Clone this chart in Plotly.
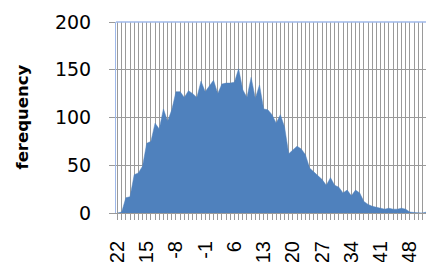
import plotly.graph_objects as go

categories = list(range(-22, 54))
values = [0, 1, 16, 17, 40, 42, 49, 73, 75, 94, 88, 109, 96, 108, 127, 127,
          121, 128, 125, 121, 138, 127, 133, 139, 125, 135, 136, 136, 137, 151,
          129, 121, 142, 120, 134, 109, 108, 103, 94, 103, 90, 62, 66, 70, 67,
          61, 47, 43, 40, 35, 29, 37, 29, 27, 21, 24, 18, 24, 21, 12, 9, 7, 6,
          5, 4, 5, 4, 4, 5, 4, 1, 0.5, 0, 0, 1, 3]
label_step = 7
tick_labels = [str(c) if (c - categories[0]) % label_step == 0 else "" for c in categories]
y_ticks = [0, 50, 100, 150, 200]

grid = "#9a9a9a"
blue_line = "#9fb9ea"

fig = go.Figure()
fig.add_trace(go.Scatter(
    x=categories, y=values, mode="lines", fill="tozeroy",
    fillcolor="#4f81bd", line=dict(color="#4f81bd", width=0.5),
    hoverinfo="skip", showlegend=False,
))

fig.update_layout(
    width=426, height=254,
    margin=dict(l=108, r=0, t=14, b=49, autoexpand=False),
    paper_bgcolor="white", plot_bgcolor="white",
    showlegend=False,
    xaxis=dict(
        range=[-22.36, 53.79],
        tickmode="array", tickvals=categories, ticktext=tick_labels,
        tickangle=-90,
        showgrid=True, gridcolor=grid, gridwidth=1,
        ticks="outside", ticklen=6, tickcolor=grid, tickwidth=1,
        showline=True, linecolor=grid, linewidth=1,
        zeroline=False, automargin=False,
        tickfont=dict(family="Liberation Sans, Arial", size=20, color="#000"),
        ticklabelstandoff=13,
    ),
    yaxis=dict(
        range=[0, 200],
        tickmode="array", tickvals=y_ticks,
        showgrid=True, gridcolor=grid, gridwidth=1,
        ticks="outside", ticklen=6, tickcolor=grid, tickwidth=1,
        showline=True, linecolor=blue_line, linewidth=1,
        zeroline=False, automargin=False,
        tickfont=dict(family="DejaVu Sans", size=19, color="#000"),
        ticklabelstandoff=14,
    ),
    shapes=[dict(type="line", xref="paper", yref="paper", x0=0, x1=1, y0=1, y1=1,
                 line=dict(color=blue_line, width=1.5))],
    annotations=[dict(
        text="<b>ferequency</b>", textangle=-90, showarrow=False,
        xref="paper", yref="paper", x=(14 - 108) / 318, y=0.5,
        xanchor="center", yanchor="middle",
        font=dict(family="DejaVu Sans", size=16.5, color="#000"),
    )],
)

fig.write_html("out.html")
